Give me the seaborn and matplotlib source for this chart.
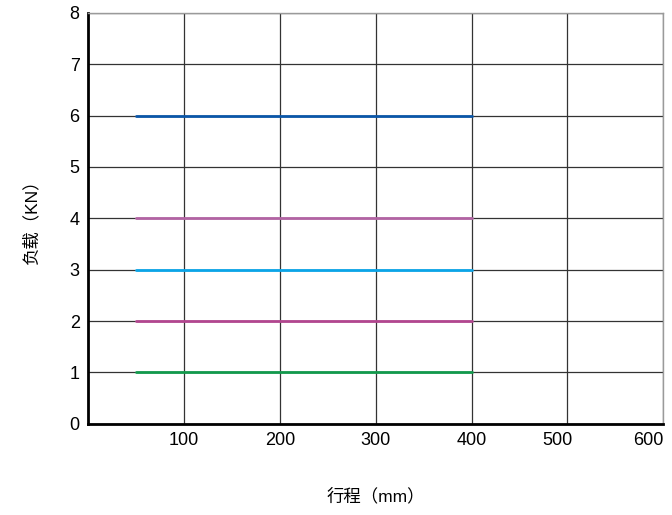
import pandas as pd
import matplotlib
matplotlib.use('Agg')
import matplotlib.pyplot as plt
import matplotlib.transforms as mtransforms
import seaborn as sns

# stroke range (mm) and load levels (KN)
stroke = [50, 400]
loads = [6, 4, 3, 2, 1]
colors = ['#0a56a8', '#b263a3', '#0aa5e8', '#b2468f', '#12994c']
xticks = [100, 200, 300, 400, 500, 600]
yticks = [0, 1, 2, 3, 4, 5, 6, 7, 8]

rows = []
for ld in loads:
    for s in stroke:
        rows.append({'stroke': s, 'load': ld, 'series': str(ld)})
df = pd.DataFrame(rows)

sns.set_style('white')
plt.rcParams['font.family'] = ['Liberation Sans', 'Noto Sans CJK SC', 'DejaVu Sans']

fig = plt.figure(figsize=(6.72, 5.15), dpi=100)
ax = fig.add_axes([0.131, 0.177, 0.856, 0.798])

ax.grid(True, color='#333333', linewidth=0.9)
ax.set_axisbelow(True)

sns.lineplot(data=df, x='stroke', y='load', hue='series', palette=colors,
             hue_order=[str(l) for l in loads], linewidth=2, legend=False, ax=ax, zorder=3)

ax.set_xlim(0, 600)
ax.set_ylim(0, 8)
ax.set_xticks(xticks)
ax.set_yticks(yticks)
ax.tick_params(axis='both', labelsize=13, length=0, pad=6, labelcolor='black')

# the last two x labels sit a bit left of their gridlines in the original
for lab, dx in zip(ax.get_xticklabels()[-2:], [-10, -15]):
    lab.set_transform(lab.get_transform() + mtransforms.ScaledTranslation(dx / 100, 0, fig.dpi_scale_trans))

for side in ['top', 'right']:
    ax.spines[side].set_color('#9a9a9a')
    ax.spines[side].set_linewidth(1)
for side in ['left', 'bottom']:
    ax.spines[side].set_color('black')
    ax.spines[side].set_linewidth(2)

ax.set_xlabel('行程（mm）', fontsize=12.5, labelpad=28, color='black')
ax.set_ylabel('负载（KN）', fontsize=12.5, labelpad=22, color='black')

fig.savefig('out.png', dpi=100)
